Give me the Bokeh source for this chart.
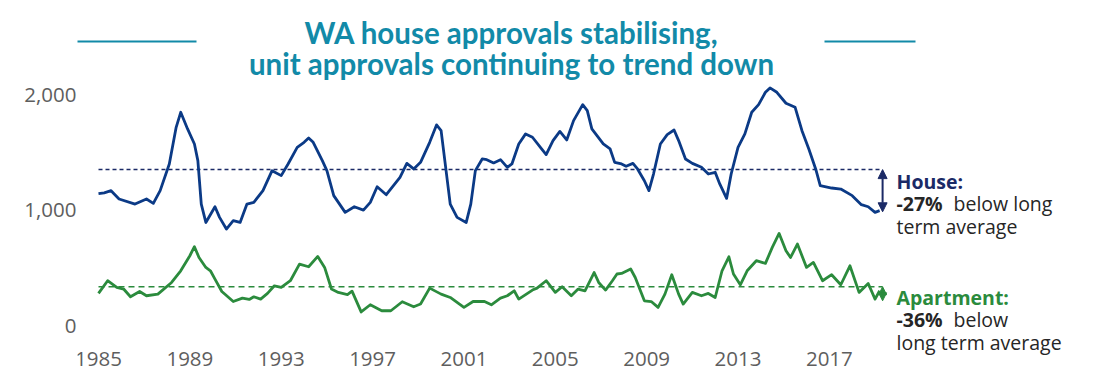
from bokeh.plotting import figure
from bokeh.models import Range1d, FixedTicker, Label, Arrow, NormalHead, NumeralTickFormatter
from bokeh.core.properties import value
from bokeh.embed import file_html
from bokeh.resources import INLINE

# ---------------- data ----------------
house_year = [1985.0, 1985.25, 1985.55, 1985.9, 1986.6, 1987.1, 1987.4, 1987.7, 1988.1, 1988.4,
              1988.6, 1988.9, 1989.2, 1989.35, 1989.5, 1989.7, 1990.1, 1990.3, 1990.6, 1990.9,
              1991.2, 1991.5, 1991.8, 1992.2, 1992.6, 1993.0, 1993.3, 1993.7, 1994.0, 1994.2,
              1994.4, 1994.8, 1995.0, 1995.3, 1995.8, 1996.2, 1996.6, 1996.9, 1997.2, 1997.6,
              1998.2, 1998.5, 1998.8, 1999.1, 1999.5, 1999.8, 2000.0, 2000.2, 2000.4, 2000.7,
              2001.1, 2001.3, 2001.5, 2001.8, 2002.0, 2002.3, 2002.6, 2002.9, 2003.1, 2003.4,
              2003.7, 2004.0, 2004.4, 2004.6, 2004.9, 2005.2, 2005.5, 2005.8, 2006.2, 2006.4,
              2006.6, 2007.1, 2007.4, 2007.6, 2007.9, 2008.1, 2008.4, 2008.6, 2008.9, 2009.1,
              2009.3, 2009.6, 2009.9, 2010.2, 2010.4, 2010.7, 2011.0, 2011.4, 2011.7, 2012.0,
              2012.2, 2012.5, 2012.7, 2013.0, 2013.3, 2013.6, 2013.9, 2014.2, 2014.4, 2014.7,
              2015.1, 2015.5, 2015.8, 2016.1, 2016.4, 2016.6, 2017.1, 2017.5, 2018.0, 2018.4,
              2018.7, 2019.0, 2019.2]
house_val = [1143, 1150, 1169, 1097, 1053, 1097, 1059, 1169, 1400, 1717,
             1847, 1703, 1573, 1429, 1053, 894, 1030, 938, 837, 909,
             894, 1053, 1068, 1169, 1342, 1299, 1400, 1544, 1587, 1625,
             1587, 1429, 1342, 1126, 981, 1030, 1001, 1068, 1203, 1134,
             1284, 1405, 1357, 1414, 1587, 1738, 1688, 1371, 1053, 938,
             894, 1053, 1342, 1443, 1437, 1409, 1437, 1371, 1400, 1573,
             1660, 1631, 1530, 1481, 1602, 1682, 1608, 1775, 1913, 1861,
             1703, 1573, 1530, 1414, 1400, 1380, 1405, 1357, 1255, 1169,
             1313, 1573, 1654, 1694, 1602, 1443, 1405, 1371, 1313, 1328,
             1227, 1102, 1313, 1544, 1660, 1847, 1913, 2020, 2058, 2020,
             1925, 1890, 1688, 1530, 1357, 1212, 1192, 1183, 1126, 1048,
             1030, 981, 996]

apt_year = [1985.0, 1985.4, 1985.8, 1986.1, 1986.4, 1986.8, 1987.1, 1987.6, 1988.2, 1988.6,
            1989.0, 1989.2, 1989.4, 1989.7, 1989.9, 1990.1, 1990.4, 1990.9, 1991.3, 1991.6,
            1991.8, 1992.1, 1992.4, 1992.7, 1993.0, 1993.4, 1993.8, 1994.2, 1994.6, 1994.9,
            1995.2, 1995.5, 1995.9, 1996.1, 1996.5, 1996.9, 1997.4, 1997.8, 1998.3, 1998.8,
            1999.1, 1999.5, 2000.0, 2000.4, 2001.0, 2001.4, 2001.9, 2002.2, 2002.6, 2002.9,
            2003.2, 2003.4, 2004.0, 2004.2, 2004.6, 2005.0, 2005.3, 2005.7, 2006.0, 2006.3,
            2006.7, 2006.9, 2007.2, 2007.5, 2007.7, 2007.9, 2008.3, 2008.5, 2008.9, 2009.2,
            2009.5, 2009.8, 2010.1, 2010.4, 2010.6, 2011.0, 2011.4, 2011.7, 2012.0, 2012.3,
            2012.6, 2012.8, 2013.1, 2013.4, 2013.8, 2014.2, 2014.5, 2014.8, 2015.1, 2015.3,
            2015.6, 2016.0, 2016.3, 2016.7, 2017.1, 2017.5, 2017.9, 2018.3, 2018.7, 2019.0,
            2019.2]
apt_val = [280, 390, 332, 318, 251, 297, 260, 274, 375, 476,
           606, 684, 591, 505, 476, 404, 297, 210, 239, 228,
           251, 231, 280, 346, 332, 390, 534, 511, 600, 505,
           318, 289, 270, 300, 120, 182, 130, 130, 208, 165,
           188, 326, 274, 245, 159, 210, 210, 182, 239, 260,
           303, 231, 309, 326, 390, 289, 338, 260, 318, 303,
           461, 375, 309, 390, 448, 453, 491, 418, 216, 210,
           159, 274, 442, 274, 188, 289, 260, 280, 245, 476,
           597, 448, 355, 476, 563, 540, 678, 799, 649, 591,
           707, 505, 548, 390, 442, 355, 519, 289, 366, 231,
           303]

house_avg = 1351
apt_avg = 338
house_pct = 27
apt_pct = 36

x_ticks = [1985, 1989, 1993, 1997, 2001, 2005, 2009, 2013, 2017]
y_ticks = [0, 1000, 2000]

title_lines = ["WA house approvals stabilising,", "unit approvals continuing to trend down"]
house_head = "House:"
house_pct_txt = "-27%"
house_rest = ["below long", "term average"]
apt_head = "Apartment:"
apt_pct_txt = "-36%"
apt_rest = ["below", "long term average"]

# ---------------- styling / layout ----------------
TEAL = "#128aa8"
NAVY = "#0b3a86"
NAVY_DARK = "#1b2a66"
GREEN = "#2b8b3d"
AXIS_GRAY = "#5e5e5e"
BODY = "#262626"

W, H = 1097, 370
PX_YR = 22.84          # pixels per year
X_REF = 98.0           # canvas x of 1985
PX_UNIT = 0.1156       # pixels per approval
Y_REF = 325.3          # canvas y of 0
FRAME_L, FRAME_R, FRAME_T, FRAME_B = 77, 1097, 0, 370
XAXIS_AT = 351.0       # canvas y where the x axis sits


def xd(px):
    return 1985 + (px - X_REF) / PX_YR


def yd(py):
    return (Y_REF - py) / PX_UNIT


p = figure(width=W, height=H, output_backend="svg", toolbar_location=None,
           x_range=Range1d(xd(FRAME_L), xd(FRAME_R)),
           y_range=Range1d(yd(FRAME_B), yd(FRAME_T)),
           min_border_left=FRAME_L, min_border_right=W - FRAME_R,
           min_border_top=FRAME_T, min_border_bottom=H - FRAME_B)
p.outline_line_color = None
p.grid.visible = False

p.xaxis.ticker = FixedTicker(ticks=x_ticks)
p.xaxis.fixed_location = yd(XAXIS_AT)
p.yaxis.ticker = FixedTicker(ticks=y_ticks)
p.yaxis.formatter = NumeralTickFormatter(format="0,0")
for ax in p.axis:
    ax.axis_line_color = None
    ax.major_tick_line_color = None
    ax.minor_tick_line_color = None
    ax.major_tick_out = 0
    ax.major_tick_in = 0
    ax.minor_tick_out = 0
    ax.major_label_text_font = "Open Sans"
    ax.major_label_text_font_size = "20.5px"
    ax.major_label_text_color = AXIS_GRAY
p.xaxis.major_label_standoff = 0
p.yaxis.major_label_standoff = 1

# average lines
x_end = house_year[-1] + 0.13
p.line([house_year[0], x_end], [house_avg, house_avg], line_color=NAVY_DARK,
       line_width=1.5, line_dash="4 3")
p.line([apt_year[0], x_end], [apt_avg, apt_avg], line_color=GREEN,
       line_width=1.5, line_dash="6 4")

# series
p.line(house_year, house_val, line_color=NAVY, line_width=2.8, line_join="round")
p.line(apt_year, apt_val, line_color=GREEN, line_width=2.8, line_join="round")

# arrows
house_now = house_avg * (1 - house_pct / 100)
apt_now = apt_avg * (1 - apt_pct / 100)
p.add_layout(Arrow(x_start=x_end, y_start=house_now, x_end=x_end, y_end=house_avg,
                   line_color=NAVY_DARK, line_width=2,
                   start=NormalHead(size=9, fill_color=NAVY_DARK, line_color=NAVY_DARK),
                   end=NormalHead(size=9, fill_color=NAVY_DARK, line_color=NAVY_DARK)))
p.add_layout(Arrow(x_start=x_end, y_start=apt_now, x_end=x_end, y_end=apt_avg,
                   line_color=GREEN, line_width=2,
                   start=NormalHead(size=8, fill_color=GREEN, line_color=GREEN),
                   end=NormalHead(size=8, fill_color=GREEN, line_color=GREEN)))

# title + decorative rules
p.text(x=[xd(511), xd(511)], y=[yd(31.7), yd(63)], text=title_lines,
       text_font=value("Lato"), text_font_style="bold", text_font_size="29.5px",
       text_color=TEAL, text_align="center", text_baseline="alphabetic")
p.segment(x0=[xd(75), xd(824)], x1=[xd(196), xd(915)], y0=[yd(41)] * 2, y1=[yd(41)] * 2,
          line_color=TEAL, line_width=2)

# right-hand annotations
AX = xd(896)


def lab(txt, py, color, bold=False, dx=0):
    p.add_layout(Label(x=AX, y=yd(py), x_offset=dx, text=txt, text_font="Open Sans",
                       text_font_size="19.5px", text_color=color,
                       text_font_style="bold" if bold else "normal",
                       text_baseline="alphabetic", text_align="left"))


lab(house_head, 181, NAVY_DARK, bold=True)
lab(house_pct_txt, 203.3, BODY, bold=True)
lab(house_rest[0], 203.3, BODY, dx=57)
lab(house_rest[1], 226, BODY)
lab(apt_head, 296.7, GREEN, bold=True)
lab(apt_pct_txt, 319.3, BODY, bold=True)
lab(apt_rest[0], 319.3, BODY, dx=57)
lab(apt_rest[1], 341.7, BODY)

open("out.html", "w").write(file_html(p, INLINE))
